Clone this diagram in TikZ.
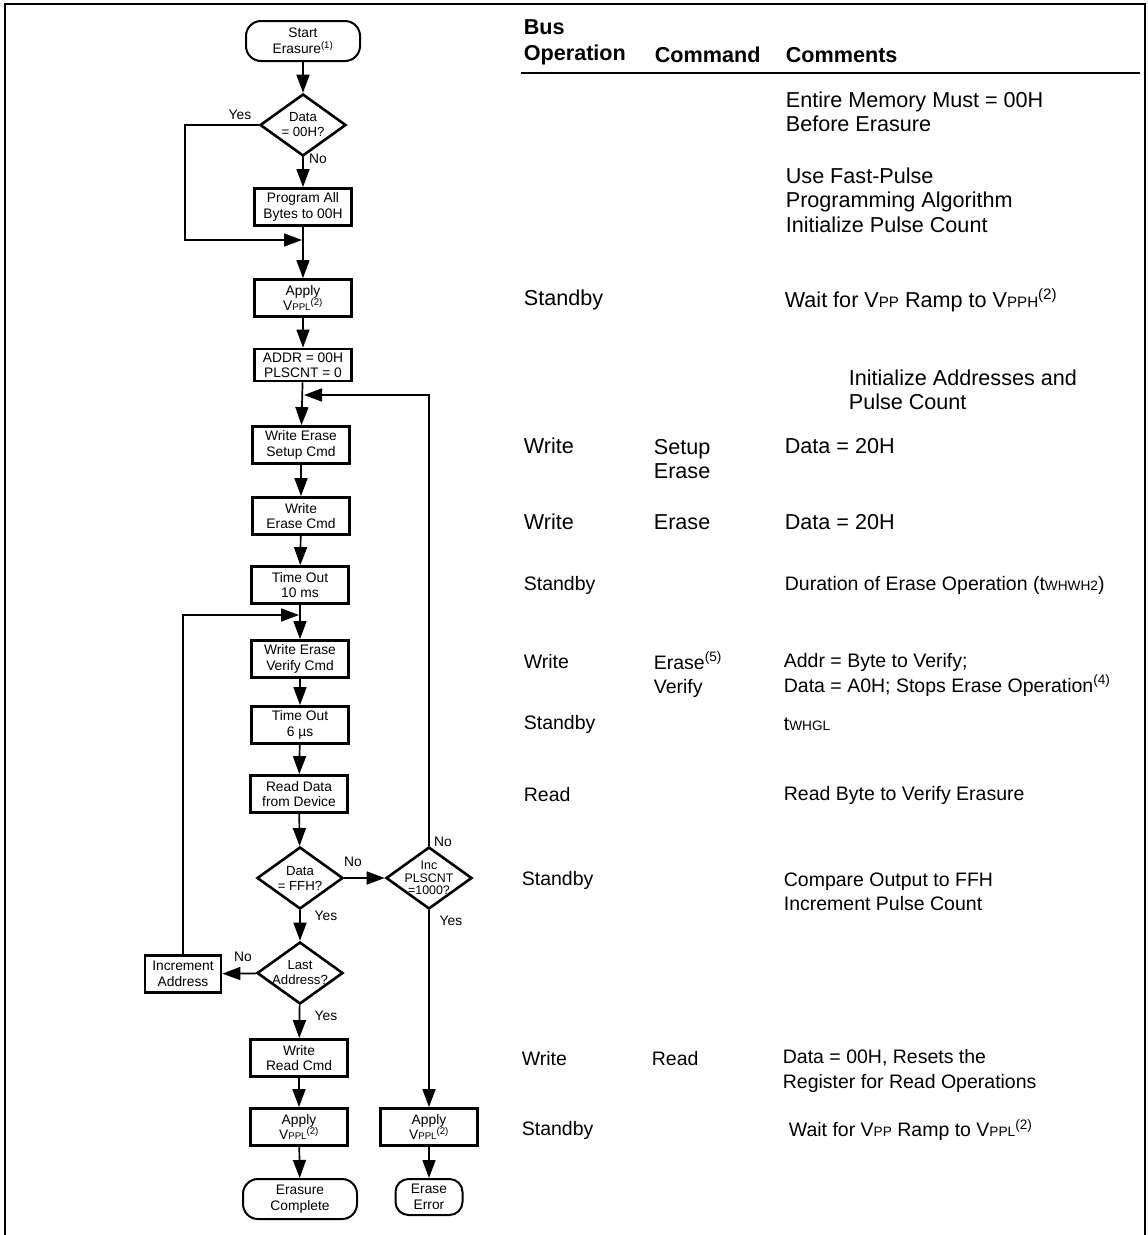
\documentclass[tikz,border=0pt]{standalone}
\usepackage{fontspec}
\setmainfont{Liberation Sans}
\usetikzlibrary{shapes,arrows.meta}
\newcommand{\lo}[1]{\scalebox{0.7}{#1}}

\begin{document}
\begin{tikzpicture}[x=1pt,y=-1pt,line width=1.7pt,
    >={Triangle[length=18pt,width=13pt]},
    box/.style={draw, line width=2.8pt, minimum width=97pt, minimum height=37pt,
      inner sep=1pt, align=center, font=\fontsize{13.8}{15.5}\selectfont},
    term/.style={draw, line width=2pt, rounded corners=15pt, minimum height=40pt,
      align=center, font=\fontsize{13.8}{16}\selectfont},
    dec/.style={diamond, draw, line width=2.6pt, minimum width=86pt,
      minimum height=62pt, inner sep=0pt},
    dtxt/.style={align=center, inner sep=0pt, font=\fontsize{13.2}{15}\selectfont},
    yn/.style={inner sep=0pt, font=\fontsize{13.8}{16}\selectfont},
    tbl/.style={anchor=west, align=left, inner sep=0pt,
      font=\fontsize{21.6}{24.5}\selectfont},
    tbs/.style={tbl, font=\fontsize{19.5}{24.5}\selectfont},
    hd/.style={tbl, font=\fontsize{21.6}{26}\selectfont\bfseries}]
     \useasboundingbox (0,0) rectangle (1148,1235);
     \draw [line width=2.6pt] (5,1235) -- (5,4) -- (1145,4) -- (1145,1235);

     % flow chart
     \node [term, minimum width=114pt] (start) at (303,41) {Start\\Erasure\textsuperscript{(1)}};
     \node [dec, label={[dtxt]center:Data\\= 00H?}] (d1) at (303,125) {};
     \node [box] (prog) at (303,207) {Program All\\Bytes to 00H};
     \node [box] (vppl1) at (303,298) {Apply\\V\lo{PPL}\textsuperscript{(2)}};
     \node [box, minimum height=32pt] (addr) at (303,365) {ADDR = 00H\\PLSCNT = 0};
     \node [box] (wesc) at (301,445) {Write Erase\\Setup Cmd};
     \node [box] (wec) at (301,516) {Write\\Erase Cmd};
     \node [box] (to10) at (300,585) {Time Out\\10 ms};
     \node [box] (wevc) at (300,659) {Write Erase\\Verify Cmd};
     \node [box] (to6) at (300,725) {Time Out\\6 µs};
     \node [box] (rdd) at (299,794) {Read Data\\from Device};
     \node [dec, label={[dtxt]center:Data\\= FFH?}] (d2) at (300,878) {};
     \node [dec, label={[dtxt, font=\fontsize{12.4}{12.5}\selectfont]center:Inc\\PLSCNT\\=1000?}] (d3) at (429,878) {};
     \node [dec, label={[dtxt]center:Last\\Address?}] (d4) at (300,973) {};
     \node [box, minimum width=76pt] (inca) at (183,974) {Increment\\Address};
     \node [box] (wrc) at (299,1058) {Write\\Read Cmd};
     \node [box] (vppl2) at (299,1127) {Apply\\V\lo{PPL}\textsuperscript{(2)}};
     \node [box] (vppl3) at (429,1127) {Apply\\V\lo{PPL}\textsuperscript{(2)}};
     \node [term, minimum width=114pt] (done) at (300,1199) {Erasure\\Complete};
     \node [term, minimum width=67pt, minimum height=36pt, rounded corners=13pt] (err) at (429,1197) {Erase\\Error};

     \coordinate (c1) at (185,240);
     \coordinate (j1) at (302,240);
     \coordinate (j2) at (304,395);
     \coordinate (j3) at (299,615);

     \draw [->] (start) -- (d1);
     \draw [->] (d1) -- (prog);
     \draw [->] (d1.west) -| (c1) -- (j1);
     \draw [->] (prog) -- (vppl1);
     \draw [->] (vppl1) -- (addr);
     \draw [->] (addr) -- (wesc);
     \draw [->] (wesc) -- (wec);
     \draw [->] (wec) -- (to10);
     \draw [->] (to10) -- (wevc);
     \draw [->] (wevc) -- (to6);
     \draw [->] (to6) -- (rdd);
     \draw [->] (rdd) -- (d2);
     \draw [->] (d2) -- (d3);
     \draw [->] (d3.north) |- (j2);
     \draw [->] (d2) -- (d4);
     \draw [->] (d4) -- (inca);
     \draw [->] (inca.north) |- (j3);
     \draw [->] (d4) -- (wrc);
     \draw [->] (wrc) -- (vppl2);
     \draw [->] (vppl2) -- (done);
     \draw [->] (d3) -- (vppl3);
     \draw [->] (vppl3) -- (err);

     \node [yn] (y1) at (240,115) {Yes};
     \node [yn] (n1) at (318,159) {No};
     \node [yn] (n2) at (353,862) {No};
     \node [yn] (n3) at (443,842) {No};
     \node [yn] (y2) at (326,916) {Yes};
     \node [yn] (y3) at (451,921) {Yes};
     \node [yn] (n4) at (243,957) {No};
     \node [yn] (y4) at (326,1016) {Yes};

     % table
     \node [hd] (hbus) at (523,42) {Bus\\Operation};
     \node [hd] (hcmd) at (654,55) {Command};
     \node [hd] (hcom) at (785,55) {Comments};
     \draw [line width=2pt] (521,73) -- (1140,73);

     \node [tbl] (t1) at (785,112) {Entire Memory Must = 00H\\Before Erasure};
     \node [tbl] (t2) at (785,200) {Use Fast-Pulse\\Programming Algorithm\\Initialize Pulse Count};
     \node [tbl] (o3) at (523,300) {Standby};
     \node [tbl] (t3) at (784,300) {Wait for V\lo{PP} Ramp to V\lo{PPH}\textsuperscript{(2)}};
     \node [tbl] (t4) at (848,390) {Initialize Addresses and\\Pulse Count};
     \node [tbl] (o5) at (523,446) {Write};
     \node [tbl] (k5) at (653,459) {Setup\\Erase};
     \node [tbl] (t5) at (784,446) {Data = 20H};
     \node [tbl] (o6) at (523,522) {Write};
     \node [tbl] (k6) at (653,522) {Erase};
     \node [tbl] (t6) at (784,522) {Data = 20H};
     \node [tbs] (o7) at (523,585) {Standby};
     \node [tbs] (t7) at (784,585) {Duration of Erase Operation (t\lo{WHWH2})};
     \node [tbs] (o8) at (523,662) {Write};
     \node [tbs] (k8) at (653,675) {Erase\textsuperscript{(5)}\\Verify};
     \node [tbs] (t8) at (783,675) {Addr = Byte to Verify;\\Data = A0H; Stops Erase Operation\textsuperscript{(4)}};
     \node [tbs] (o9) at (523,724) {Standby};
     \node [tbs] (t9) at (783,724) {t\lo{WHGL}};
     \node [tbs] (o10) at (523,795) {Read};
     \node [tbs] (t10) at (783,795) {Read Byte to Verify Erasure};
     \node [tbs] (o11) at (521,880) {Standby};
     \node [tbs] (t11) at (783,892) {Compare Output to FFH\\Increment Pulse Count};
     \node [tbs] (o12) at (521,1059) {Write};
     \node [tbs] (k12) at (651,1059) {Read};
     \node [tbs] (t12) at (782,1071) {Data = 00H, Resets the\\Register for Read Operations};
     \node [tbs] (o13) at (521,1130) {Standby};
     \node [tbs] (t13) at (788,1130) {Wait for V\lo{PP} Ramp to V\lo{PPL}\textsuperscript{(2)}};
\end{tikzpicture}
\end{document}
